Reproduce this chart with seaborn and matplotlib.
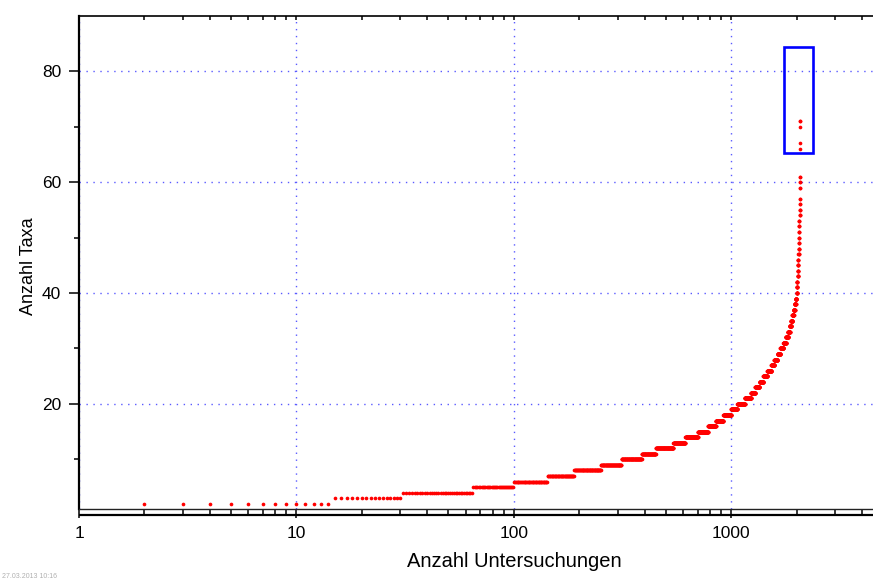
import numpy as np
import pandas as pd
import matplotlib
matplotlib.use("Agg")
import matplotlib.pyplot as plt
from matplotlib.ticker import LogLocator, NullFormatter, FixedLocator, FixedFormatter
from matplotlib.patches import Rectangle
import seaborn as sns

# ---- data ----
# number of taxa (step levels) and the first investigation index at that level
taxa_levels = [2, 3, 4, 5, 6, 7, 8, 9, 10, 11, 12, 13, 14, 15, 16, 17, 18, 19, 20,
               21, 22, 23, 24, 25, 26, 27, 28, 29, 30, 31, 32, 33, 34, 35, 36, 37,
               38, 39, 40, 41, 42, 43, 44, 45, 46, 47, 48, 49, 50, 51, 52, 53, 54,
               55, 56, 57, 59, 60, 61, 66, 67, 70, 71]
first_index = [2, 15, 31, 65, 100, 143, 190, 252, 313, 388, 450, 542, 615, 703, 783,
               850, 920, 1000, 1068, 1155, 1233, 1290, 1349, 1405, 1466, 1530, 1578,
               1632, 1683, 1738, 1785, 1826, 1858, 1885, 1910, 1935, 1958, 1978, 1996,
               2004, 2011, 2017, 2023, 2028, 2033, 2037, 2041, 2045, 2048, 2051, 2054,
               2057, 2060, 2063, 2066, 2068, 2070, 2072, 2074, 2076, 2077, 2078, 2079]
last_index = 2080

x_ticks = [1, 10, 100, 1000, 10000]
x_tick_labels = ["1", "10", "100", "1000", ""]
y_ticks = [20, 40, 60, 80]
y_minor_ticks = [10, 30, 50, 70]

# highlighted region (annotation box)
box_x = (1755, 2387)
box_y = (65.2, 84.3)

xs, ys = [], []
ends = first_index[1:] + [last_index + 1]
for lvl, s, e in zip(taxa_levels, first_index, ends):
    idx = np.arange(s, e)
    xs.extend(idx.tolist())
    ys.extend([lvl] * len(idx))
df = pd.DataFrame({"Untersuchungen": xs, "Taxa": ys})

# ---- style ----
sns.set_theme(style="white")
plt.rcParams["font.family"] = ["Liberation Sans", "DejaVu Sans"]

W, H = 873, 580
fig = plt.figure(figsize=(W / 100, H / 100), dpi=100)
fig.patch.set_facecolor("white")

left_px, right_px = 79.0, 948.7
top_px, bottom_px = 15.7, 509.3
ax = fig.add_axes([left_px / W, (H - bottom_px) / H,
                   (right_px - left_px) / W, (bottom_px - top_px) / H])
ax.set_facecolor("white")

ax2 = ax.twiny()

ax.set_xscale("log")
ax.set_xlim(1, 10000)
ax.set_ylim(1, 90)

grid_kw = dict(color="#5a5aff", linewidth=1.0, linestyle=(0, (1.0, 4.0)))
ax.xaxis.set_major_locator(FixedLocator(x_ticks))
ax.xaxis.set_major_formatter(FixedFormatter(x_tick_labels))
ax.xaxis.set_minor_locator(LogLocator(base=10, subs=np.arange(2, 10), numticks=20))
ax.xaxis.set_minor_formatter(NullFormatter())
ax.yaxis.set_major_locator(FixedLocator(y_ticks))
ax.yaxis.set_minor_locator(FixedLocator(y_minor_ticks))
ax.grid(False)
ax.xaxis.grid(True, which="major", **grid_kw)
ax.yaxis.grid(True, which="major", **grid_kw)
ax.set_axisbelow(True)

sns.scatterplot(data=df, x="Untersuchungen", y="Taxa", ax=ax, color="#ff0000",
                s=7, linewidth=0, marker="o", zorder=3, legend=False)

ax.add_patch(Rectangle((box_x[0], box_y[0]), box_x[1] - box_x[0], box_y[1] - box_y[0],
                       fill=False, edgecolor="#0000ff", linewidth=1.9, zorder=4))

# spines
for side in ["right", "top"]:
    ax.spines[side].set_visible(False)
ax.spines["left"].set_color("black")
ax.spines["left"].set_linewidth(1.6)
ax.spines["bottom"].set_color("#222222")
ax.spines["bottom"].set_linewidth(1.0)

# ruler-like second line under the x axis
ruler_y = -(514.6 - bottom_px) / (bottom_px - top_px)
ax.plot([0, 1], [ruler_y, ruler_y], transform=ax.transAxes, color="black",
        linewidth=1.6, clip_on=False, solid_capstyle="butt", zorder=5)

ax.tick_params(axis="x", which="major", direction="out", length=6.6, width=1.1,
               color="black", pad=5.5, labelsize=12.5, labelcolor="black",
               bottom=True, top=False)
ax.tick_params(axis="x", which="minor", direction="out", length=3.8, width=1.1,
               color="black", bottom=True, top=False)
ax.tick_params(axis="y", which="major", direction="out", length=7.2, width=1.1,
               color="black", pad=5.5, labelsize=12.5, labelcolor="black",
               left=True, right=False)
ax.tick_params(axis="y", which="minor", direction="out", length=3.6, width=1.1,
               color="black", left=True, right=False)

ax.set_xlabel("Anzahl Untersuchungen", fontsize=14.5, color="black")
ax.set_ylabel("Anzahl Taxa", fontsize=13, color="black")
ax.xaxis.set_label_coords(0.5, -(552.0 - bottom_px) / (bottom_px - top_px))
ax.yaxis.set_label_coords(-(left_px - 36.8) / (right_px - left_px), 0.493)

# top axis with inward ticks
ax2.set_xscale("log")
ax2.set_xlim(1, 10000)
ax2.xaxis.set_major_locator(FixedLocator(x_ticks))
ax2.xaxis.set_minor_locator(LogLocator(base=10, subs=np.arange(2, 10), numticks=20))
ax2.xaxis.set_minor_formatter(NullFormatter())
ax2.tick_params(axis="x", which="both", direction="in", length=3.0, width=1.1,
                color="black", top=True, bottom=False, labeltop=False)
ax2.grid(False)
for side in ["left", "right", "bottom"]:
    ax2.spines[side].set_visible(False)
ax2.spines["top"].set_color("black")
ax2.spines["top"].set_linewidth(1.2)

fig.text(0.002, (H - 573.5) / H, "27.03.2013 10:16", fontsize=5, color="#b0b0b0",
         va="top", ha="left")

fig.savefig("out.png", dpi=100, facecolor="white")
